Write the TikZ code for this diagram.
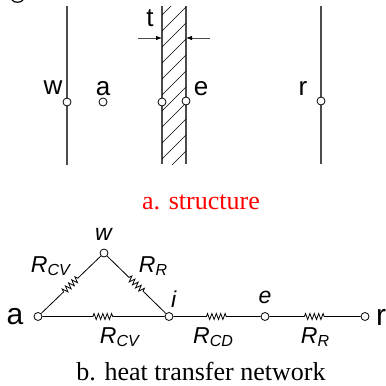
\documentclass[tikz,border=0pt]{standalone}
\usepackage{fontspec}
\setmainfont{Liberation Serif}
\newfontfamily\labelfont{Liberation Sans}
\usetikzlibrary{arrows.meta,decorations.pathmorphing}
\newcommand{\resname}[1]{\textit{R}\raisebox{-.3ex}{\fontsize{16}{16}\selectfont\textit{#1}}}
\tikzset{
	hole/.style={draw, circle, fill=white, inner sep=0pt, minimum size=8pt, line width=.8pt},
	wallline/.style={color=black!70, line width=1.1pt},
	resistor/.style={decorate, decoration={zigzag, segment length=4.4pt, amplitude=3pt, pre length=#1, post length=#1}},
	sanslabel/.style={font=\labelfont\fontsize{26}{26}\selectfont, inner sep=0pt},
	biglabel/.style={font=\labelfont\fontsize{30}{30}\selectfont, inner sep=0pt},
	reslabel/.style={font=\labelfont\fontsize{23}{23}\selectfont, inner sep=0pt},
	caption/.style={font=\fontsize{26}{26}\selectfont, inner sep=0pt}
}
\begin{document}
\begin{tikzpicture}[x=1pt, y=-1pt, line width=.8pt]
	\useasboundingbox (0,0) rectangle (386,386);
	\draw[line width=1.2pt] (12,0) .. controls (14,3) and (21,3) .. (23,0);
	\draw[wallline] (67,6) -- (67,165);
	\draw[wallline] (162,6) -- (162,164);
	\draw[wallline] (186,6) -- (186,164);
	\draw[wallline] (321,6) -- (321,164);
	\begin{scope}
		\clip (162,6) rectangle (186,164);
		\foreach \y in {15,31,...,175}
			\draw[line width=.7pt] (162,\y) -- (186,\y-24);
	\end{scope}
	\node[hole] (wleft) at (67,102) {};
	\node[hole] (air) at (103,102) {};
	\node[hole] (inner) at (162,102) {};
	\node[hole] (outer) at (186,101) {};
	\node[hole] (room) at (321,101) {};
	\node[sanslabel] at (53,88) {w};
	\node[sanslabel] at (103,89) {a};
	\node[sanslabel] at (201,89) {e};
	\node[sanslabel] at (303,89) {r};
	\node[sanslabel] at (150,18) {t};
	\coordinate (tleft) at (138,38);
	\coordinate (tright) at (210,38);
	\coordinate (wallin) at (162,38);
	\coordinate (wallout) at (186,38);
	\draw[color=black!70, -{Latex[length=6pt,width=4.5pt,black]}] (tleft) -- (wallin);
	\draw[color=black!70, -{Latex[length=6pt,width=4.5pt,black]}] (tright) -- (wallout);
	\node[caption, text=red] at (201,202) {a. structure};
	\node[hole] (na) at (38,316.5) {};
	\node[hole] (nw) at (104,253) {};
	\node[hole] (ni) at (169,316.5) {};
	\node[hole] (ne) at (265,316.5) {};
	\node[hole] (nr) at (365,316.5) {};
	\draw[resistor=31pt] (na) -- (nw);
	\draw[resistor=30.5pt] (nw) -- (ni);
	\draw[resistor=50.5pt] (na) -- (ni);
	\draw[resistor=33pt] (ni) -- (ne);
	\draw[resistor=35pt] (ne) -- (nr);
	\node[biglabel] at (15,317) {a};
	\node[biglabel] at (381,317) {r};
	\node[reslabel] at (104,234) {\textit{w}};
	\node[reslabel] at (174,299) {\textit{i}};
	\node[reslabel] at (265,297) {\textit{e}};
	\node[reslabel] at (51,266) {\resname{CV}};
	\node[reslabel] at (153,266) {\resname{R}};
	\node[reslabel] at (120,337) {\resname{CV}};
	\node[reslabel] at (213,337) {\resname{CD}};
	\node[reslabel] at (315,337) {\resname{R}};
	\node[caption] at (201,372) {b. heat transfer network};
\end{tikzpicture}
\end{document}
